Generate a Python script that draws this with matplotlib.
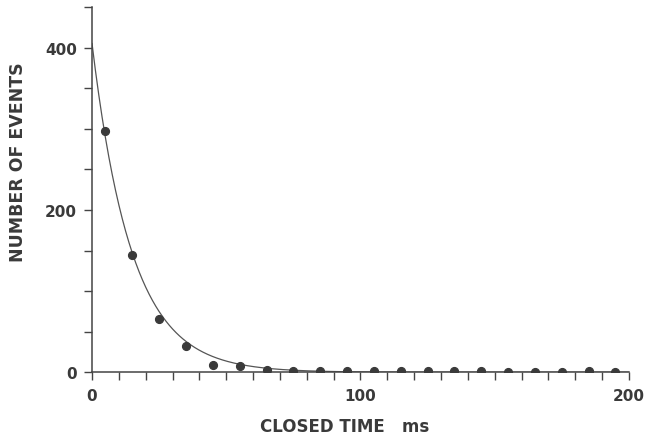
import numpy as np
import matplotlib
matplotlib.use("Agg")
import matplotlib.pyplot as plt
from matplotlib.ticker import MultipleLocator

# Data
closed_time = [5, 15, 25, 35, 45, 55, 65, 75, 85, 95, 105, 115, 125, 135, 145, 155, 165, 175, 185, 195]
n_events = [297, 144, 66, 32, 9, 8, 3, 1, 2, 1, 1.5, 1, 1, 1, 1, 0.5, 0.5, 0.5, 1, 0.5]

# Fitted single-exponential curve parameters
fit_amp = 405
fit_tau = 14.8

x_ticks = [0, 100, 200]
y_ticks = [0, 200, 400]

plt.rcParams['font.family'] = ['DejaVu Sans']
ink = '#3a3a3a'

fig = plt.figure(figsize=(6.49, 4.39), dpi=100)
ax = fig.add_axes([0.1418, 0.1497, 0.969 - 0.1418, 0.9818 - 0.1497])

t = np.linspace(0, 200, 800)
ax.plot(t, fit_amp * np.exp(-t / fit_tau), color='#555555', lw=0.9, zorder=2)
ax.plot(closed_time, n_events, 'o', color=ink, ms=5.6, mec=ink, zorder=3)

ax.set_xlim(0, 200)
ax.set_ylim(0, 450)
ax.spines['top'].set_visible(False)
ax.spines['right'].set_visible(False)
for s in ('left', 'bottom'):
    ax.spines[s].set_color('#444444')
    ax.spines[s].set_linewidth(1.1)

ax.set_xticks(x_ticks)
ax.set_yticks(y_ticks)
ax.xaxis.set_minor_locator(MultipleLocator(10))
ax.yaxis.set_minor_locator(MultipleLocator(50))
ax.tick_params(which='both', direction='out', color='#444444', width=1.0, length=6)
ax.tick_params(axis='both', which='major', labelsize=11, labelcolor=ink, pad=5)
for lab in ax.get_xticklabels() + ax.get_yticklabels():
    lab.set_fontweight('bold')

ax.set_xlabel('CLOSED TIME   ms', fontsize=12, fontweight='bold', color=ink)
ax.set_ylabel('NUMBER OF EVENTS', fontsize=12.5, fontweight='bold', color=ink)
ax.xaxis.set_label_coords(0.47, -0.122)
ax.yaxis.set_label_coords(-0.121, 0.577)

fig.savefig('out.png', dpi=100, facecolor='white')
